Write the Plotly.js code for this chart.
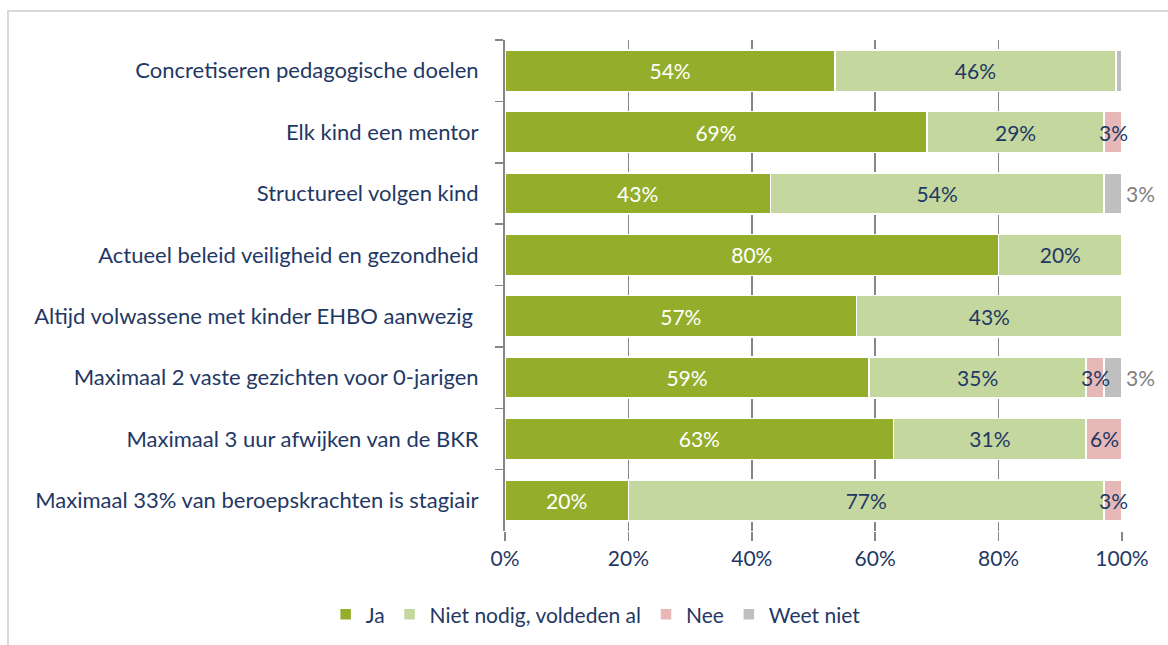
<!DOCTYPE html>
<html>
<head>
<meta charset="utf-8">
<script src="https://cdn.plot.ly/plotly-3.0.1.min.js"></script>
<style>
  html, body { margin: 0; padding: 0; background: #ffffff; overflow: hidden; }
  #frame { position: absolute; left: 7px; top: 10px; width: 1200px; height: 700px; border: 2px solid #d9d9d9; box-sizing: border-box; }
  #chart { position: absolute; left: 0; top: 0; width: 1168px; height: 645px; }
</style>
</head>
<body>
<div id="frame"></div>
<div id="chart"></div>
<script>
// Categories (top to bottom as shown)
const categories = [
  "Concretiseren pedagogische doelen",
  "Elk kind een mentor",
  "Structureel volgen kind",
  "Actueel beleid veiligheid en gezondheid",
  "Altijd volwassene met kinder EHBO aanwezig ",
  "Maximaal 2 vaste gezichten voor 0-jarigen",
  "Maximaal 3 uur afwijken van de BKR",
  "Maximaal 33% van beroepskrachten is stagiair"
];
// Values (percent)
const ja        = [53.5, 68.4, 43.0, 80.0, 57.0, 59.0, 63.0, 20.0];
const nietNodig = [45.5, 28.7, 54.1, 20.0, 43.0, 35.2, 31.2, 77.1];
const nee       = [0,    2.9,  0,    0,    0,    2.9,  5.8,  2.9];
const weetNiet  = [1.0,  0,    2.9,  0,    0,    2.9,  0,    0];
// Data labels as printed
const jaLabels        = ["54%", "69%", "43%", "80%", "57%", "59%", "63%", "20%"];
const nietNodigLabels = ["46%", "29%", "54%", "20%", "43%", "35%", "31%", "77%"];
const neeLabels       = ["", "3%", "", "", "", "3%", "6%", "3%"];
const weetNietLabels  = ["", "", "3%", "", "", "3%", "", ""];
const tickVals   = [0, 20, 40, 60, 80, 100];
const tickLabels = ["0%", "20%", "40%", "60%", "80%", "100%"];

const FONT = "Lato, 'Noto Sans', sans-serif";
const NAVY = "#1f3864";
const FS = 21;
const lineW = {color: "#ffffff", width: 1.5};
const r3 = v => Math.round(v * 1000) / 1000;

function mk(name, vals, labels, color, tcolor) {
  return {
    type: "bar", orientation: "h", name: name,
    y: categories, x: vals,
    text: labels, textposition: labels ? "inside" : "none", texttemplate: labels ? "%{text}" : "",
    insidetextanchor: "middle", textangle: 0,
    insidetextfont: {family: FONT, size: FS, color: tcolor},
    constraintext: "none",
    marker: {color: color, line: lineW},
    hoverinfo: "skip"
  };
}

const data = [
  mk("Ja", ja, jaLabels, "#94ae2c", "#ffffff"),
  mk("Niet nodig, voldeden al", nietNodig, nietNodigLabels, "#c4d79e", NAVY),
  mk("Nee", nee, null, "#e6b9b8", NAVY),
  mk("Weet niet", weetNiet, null, "#bfbfbf", "#808080")
];

// Labels for the small segments, positioned from the data on the axes
const annotations = [];
categories.forEach((c, i) => {
  if (neeLabels[i]) {
    annotations.push({
      x: r3(ja[i] + nietNodig[i] + nee[i] / 2), y: c, xref: "x", yref: "y",
      text: neeLabels[i], showarrow: false, xanchor: "center", yanchor: "middle",
      font: {family: FONT, size: FS, color: NAVY}
    });
  }
  if (weetNietLabels[i]) {
    annotations.push({
      x: r3(ja[i] + nietNodig[i] + nee[i] + weetNiet[i]), y: c, xref: "x", yref: "y",
      text: weetNietLabels[i], showarrow: false, xanchor: "left", yanchor: "middle", xshift: 2,
      font: {family: FONT, size: FS, color: "#808080"}
    });
  }
});

const layout = {
  width: 1168, height: 645,
  margin: {l: 505, r: 46, t: 40, b: 114},
  paper_bgcolor: "rgba(0,0,0,0)",
  plot_bgcolor: "rgba(0,0,0,0)",
  barmode: "stack",
  bargap: 0.33,
  showlegend: true,
  annotations: annotations,
  font: {family: FONT, size: FS, color: NAVY},
  xaxis: {
    range: [0, 100], tickvals: tickVals, ticktext: tickLabels,
    showgrid: true, gridcolor: "#868686", gridwidth: 1.5,
    zeroline: false, showline: false,
    ticks: "outside", ticklen: 9, tickcolor: "#868686", tickwidth: 1.5,
    tickfont: {family: FONT, size: FS, color: NAVY},
    fixedrange: true
  },
  yaxis: {
    autorange: "reversed", type: "category",
    showline: true, linecolor: "#868686", linewidth: 2,
    ticks: "outside", ticklen: 8, tickcolor: "#868686", tickwidth: 1.5,
    tickson: "boundaries",
    ticklabelstandoff: 20,
    showgrid: false, zeroline: false,
    tickfont: {family: FONT, size: 22, color: NAVY},
    fixedrange: true
  },
  legend: {
    orientation: "h", x: 0.51, xref: "container", xanchor: "center",
    y: 0.047, yref: "container", yanchor: "middle",
    traceorder: "normal",
    font: {family: FONT, size: FS, color: NAVY},
    itemwidth: 30, itemclick: false, itemdoubleclick: false
  }
};

Plotly.newPlot("chart", data, layout, {displayModeBar: false, staticPlot: true});
</script>
</body>
</html>
